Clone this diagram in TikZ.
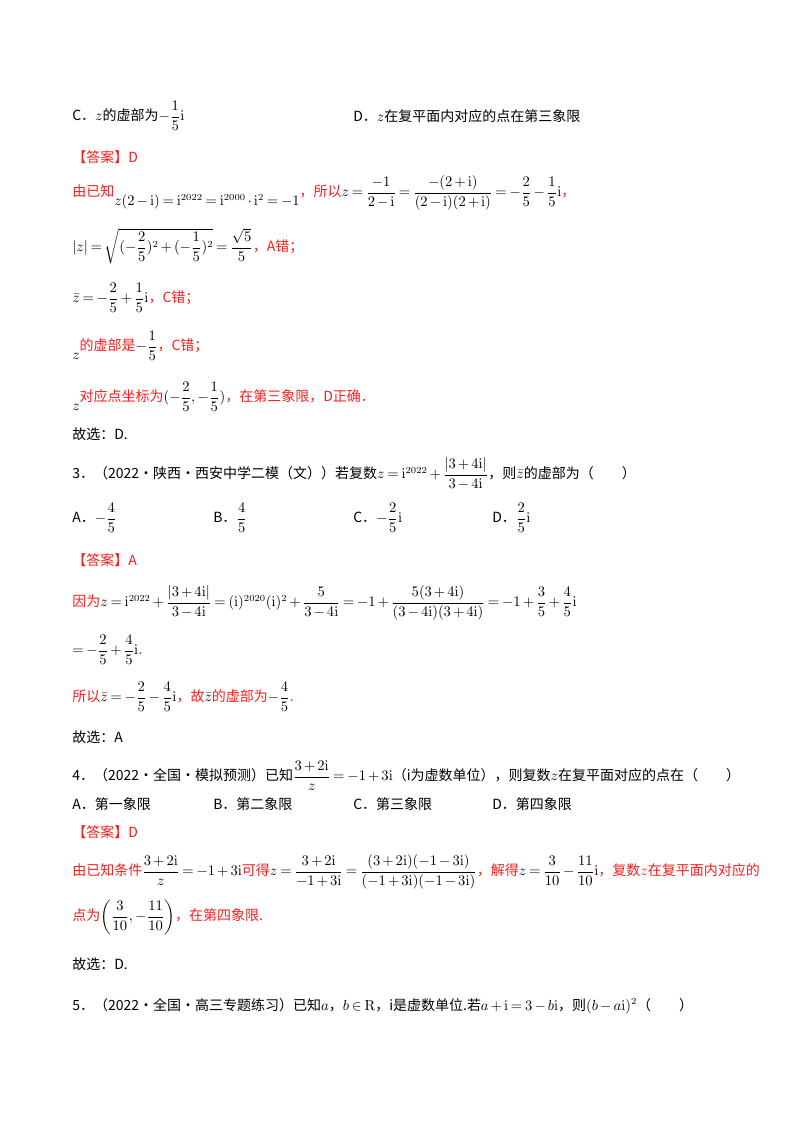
\documentclass[tikz,border=0pt]{standalone}
\usepackage{amsmath}
\usepackage[no-math]{fontspec}
\setmainfont{Noto Sans CJK SC}
\definecolor{ans}{RGB}{250,30,30}
\newcommand{\ii}{\mathrm{i}}
\medmuskip=2.5mu plus 1mu minus 2mu
\thickmuskip=3.5mu plus 2mu
\tikzset{line/.style={anchor=west,inner sep=0pt,font=\fontsize{10.5pt}{12.5pt}\selectfont},
 red/.style={line,text=ans}}
\begin{document}
\begin{tikzpicture}[x=0.75pt,y=-0.75pt]
\useasboundingbox[fill=white] (0,0) rectangle (800,1132);
\node[line] (l1) at (72,116) {C．$z$的虚部为$-\dfrac{1}{5}\ii$};
\node[line] (l1d) at (353,116) {D．$z$在复平面内对应的点在第三象限};
\node[red] (l2) at (72,157) {【答案】D};
\node[red] (l3) at (72,193) {由已知\raisebox{-1.2ex}{\color{black}$z(2-\ii)=\ii^{2022}=\ii^{2000}\cdot \ii^{2}=-1$}，所以\color{black}$z=\dfrac{-1}{2-\ii}=\dfrac{-(2+\ii)}{(2-\ii)(2+\ii)}=-\dfrac{2}{5}-\dfrac{1}{5}\ii$\color{ans}，};
\node[red] (l4) at (72,246) {\color{black}$|z|=\sqrt{(-\dfrac{2}{5})^2+(-\dfrac{1}{5})^2}=\dfrac{\sqrt5}{5}$\color{ans}，A错；};
\node[red] (l5) at (72,298) {\color{black}$\bar z=-\dfrac{2}{5}+\dfrac{1}{5}\ii$\color{ans}，C错；};
\node[red] (l6) at (72,346) {\raisebox{-1.2ex}{\color{black}$z$}的虚部是\color{black}$-\dfrac{1}{5}$\color{ans}，C错；};
\node[red] (l7) at (72,397) {\raisebox{-1.2ex}{\color{black}$z$}对应点坐标为\color{black}$(-\dfrac{2}{5},-\dfrac{1}{5})$\color{ans}，在第三象限，D正确．};
\node[line] (l8) at (72,434) {故选：D.};
\node[line] (l9) at (72,474) {3．（2022·陕西·西安中学二模（文））若复数$z=\ii^{2022}+\dfrac{|3+4\ii|}{3-4\ii}$，则$\bar z$的虚部为（\qquad）};
\node[line] (o1) at (72,518) {A．$-\dfrac{4}{5}$};
\node[line] (o2) at (213,518) {B．$\dfrac{4}{5}$};
\node[line] (o3) at (353,518) {C．$-\dfrac{2}{5}\ii$};
\node[line] (o4) at (492,518) {D．$\dfrac{2}{5}\ii$};
\node[red] (l10) at (72,560) {【答案】A};
\node[red] (l11) at (72,603) {因为\color{black}$z=\ii^{2022}+\dfrac{|3+4\ii|}{3-4\ii}=(\ii)^{2020}(\ii)^2+\dfrac{5}{3-4\ii}=-1+\dfrac{5(3+4\ii)}{(3-4\ii)(3+4\ii)}=-1+\dfrac{3}{5}+\dfrac{4}{5}\ii$};
\node[red] (l12) at (72,650) {\color{black}$=-\dfrac{2}{5}+\dfrac{4}{5}\ii$\color{ans}.};
\node[red] (l13) at (72,697) {所以\color{black}$\bar z=-\dfrac{2}{5}-\dfrac{4}{5}\ii$\color{ans}，故\color{black}$\bar z$\color{ans}的虚部为\color{black}$-\dfrac{4}{5}$\color{ans}.};
\node[line] (l14) at (72,737) {故选：A};
\node[line] (l15) at (72,776) {4．（2022·全国·模拟预测）已知$\dfrac{3+2\ii}{z}=-1+3\ii$（i为虚数单位），则复数$z$在复平面对应的点在（\qquad）};
\node[line] (p1) at (72,804) {A．第一象限};
\node[line] (p2) at (213,804) {B．第二象限};
\node[line] (p3) at (353,804) {C．第三象限};
\node[line] (p4) at (492,804) {D．第四象限};
\node[red] (l16) at (72,832) {【答案】D};
\node[red] (l17) at (72,872) {由已知条件\color{black}$\dfrac{3+2\ii}{z}=-1+3\ii$\color{ans}可得\color{black}$z=\dfrac{3+2\ii}{-1+3\ii}=\dfrac{(3+2\ii)(-1-3\ii)}{(-1+3\ii)(-1-3\ii)}$\color{ans}，解得\color{black}$z=\dfrac{3}{10}-\dfrac{11}{10}\ii$\color{ans}，复数$z$在复平面内对应的};
\node[red] (l18) at (72,917) {点为\color{black}$\left(\dfrac{3}{10},-\dfrac{11}{10}\right)$\color{ans}，在第四象限.};
\node[line] (l19) at (72,964) {故选：D.};
\node[line] (l20) at (72,1006) {5．（2022·全国·高三专题练习）已知$a$，$b\in\mathrm{R}$，i是虚数单位.若$a+\ii=3-b\ii$，则$(b-a\ii)^2$（\qquad）};
\end{tikzpicture}
\end{document}
